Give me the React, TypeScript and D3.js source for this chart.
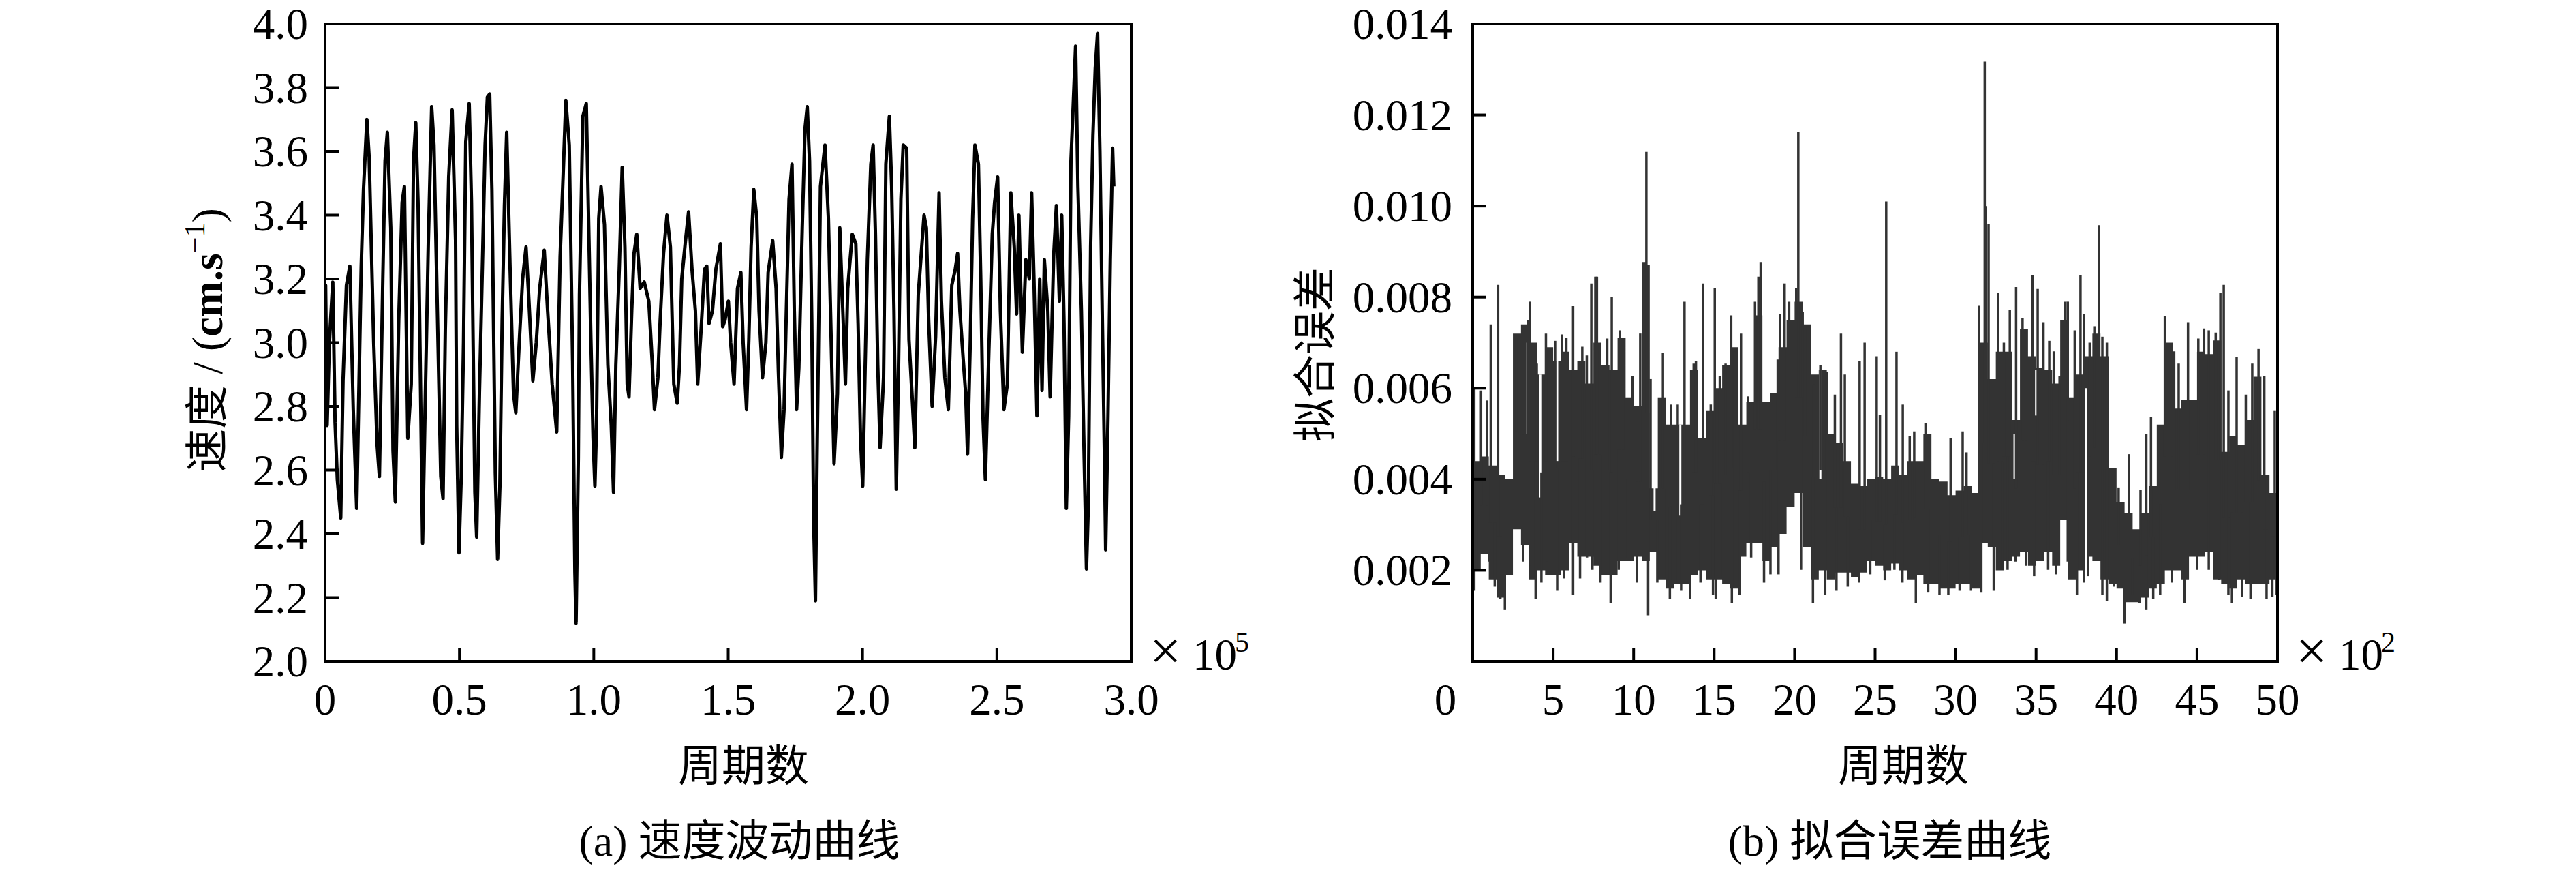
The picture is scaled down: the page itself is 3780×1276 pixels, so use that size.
import React from "react";
import * as d3 from "d3";

const W = 3780;
const H = 1276;
const SERIF = "'Liberation Serif', 'Times New Roman', 'Noto Sans CJK SC', serif";

// ---------- (a) speed fluctuation: [thousand cycles, cm/s] ----------
const speedPoints: [number, number][] = [
  [0, 2.85], [0.2, 3.18], [0.76, 2.74], [1.6, 3.0], [2.87, 3.19], [3.72, 2.75], [4.57, 2.57], [5.83, 2.45],
  [6.68, 2.88], [7.95, 3.18], [9.22, 3.24], [10.49, 2.79], [11.76, 2.48], [13.45, 3.24], [14.29, 3.48], [15.56, 3.7],
  [16.41, 3.58], [18.1, 3.0], [19.37, 2.68], [20.22, 2.58], [21.49, 3.2], [22.33, 3.57], [23.18, 3.66], [24.45, 3.36],
  [25.29, 2.66], [26.14, 2.5], [27.41, 3.07], [28.68, 3.44], [29.52, 3.49], [30.79, 2.7], [32.06, 2.87], [32.91, 3.57],
  [33.75, 3.69], [34.6, 3.44], [35.87, 2.64], [36.29, 2.37], [37.14, 2.76], [38.41, 3.31], [39.67, 3.74], [40.52, 3.62],
  [41.79, 3.1], [43.06, 2.58], [43.9, 2.51], [44.75, 3.04], [46.02, 3.52], [47.29, 3.73], [48.56, 3.32], [48.98, 2.74],
  [49.83, 2.34], [50.67, 2.58], [51.52, 3.0], [52.36, 3.63], [53.63, 3.75], [54.48, 3.44], [55.75, 2.53], [56.42, 2.39],
  [57.44, 2.84], [58.71, 3.3], [59.55, 3.62], [60.4, 3.77], [61.25, 3.78], [62.09, 3.48], [63.36, 2.59], [64.21, 2.32],
  [65.05, 2.55], [65.9, 3.07], [66.75, 3.43], [67.59, 3.66], [68.86, 3.23], [70.13, 2.84], [70.98, 2.78], [72.25, 3.0],
  [73.51, 3.2], [74.78, 3.3], [75.63, 3.17], [77.32, 2.88], [78.59, 3.0], [79.86, 3.17], [81.55, 3.29], [82.82, 3.1],
  [84.51, 2.87], [86.2, 2.72], [87.47, 3.27], [88.74, 3.56], [89.59, 3.76], [90.86, 3.62], [92.13, 2.94], [92.97, 2.28],
  [93.4, 2.12], [94.24, 2.64], [94.66, 3.15], [95.93, 3.71], [97.2, 3.75],
  [98.05, 3.39], [98.89, 3.02], [99.74, 2.7], [100.41, 2.55], [101.0, 2.74], [101.85, 3.39], [102.7, 3.49], [103.97, 3.37],
  [105.24, 2.93], [106.5, 2.74], [107.35, 2.53], [108.2, 2.93], [109.47, 3.23], [110.57, 3.55], [111.58, 3.3], [112.43, 2.87],
  [113.1, 2.83], [114.12, 3.1], [114.97, 3.28], [115.98, 3.34], [117.25, 3.17], [118.77, 3.19], [120.47, 3.13], [121.73, 2.94],
  [122.58, 2.79], [123.85, 2.89], [124.7, 3.07], [125.96, 3.28], [127.23, 3.4], [128.5, 3.3], [129.77, 2.87], [131.04, 2.81],
  [131.89, 2.93], [132.73, 3.2], [134.0, 3.31], [135.27, 3.41], [136.54, 3.23], [137.81, 3.1], [138.65, 2.87], [139.92, 3.04],
  [141.19, 3.23], [142.04, 3.24], [142.88, 3.06], [144.15, 3.1], [145.42, 3.23], [147.11, 3.31], [147.96, 3.05], [148.81, 3.07],
  [150.08, 3.13], [150.92, 3.0], [152.19, 2.87], [153.46, 3.17], [154.73, 3.22], [155.57, 3.0], [156.84, 2.79], [157.69, 3.01],
  [158.54, 3.3], [159.55, 3.48], [160.65, 3.39], [161.5, 3.1], [162.77, 2.89], [164.03, 3.0], [164.88, 3.22], [166.57, 3.32],
  [167.84, 3.17], [168.69, 2.91], [169.79, 2.64], [170.8, 2.79], [171.65, 3.1], [172.66, 3.45], [173.76, 3.56], [174.61, 3.1],
  [175.46, 2.79], [176.3, 2.92], [177.57, 3.36], [178.59, 3.67], [179.43, 3.74], [180.28, 3.57], [181.12, 3.06], [181.8, 2.45],
  [182.48, 2.19], [183.07, 2.64], [184.34, 3.49], [186.03, 3.62], [187.3, 3.39], [188.57, 2.92], [189.41, 2.62], [190.68, 2.84],
  [191.53, 3.36], [192.8, 3.07], [193.64, 2.87], [194.49, 3.17], [196.18, 3.34],
  [197.5, 3.31], [198.35, 3.06], [199.21, 2.71], [200.07, 2.55], [200.94, 2.91], [201.8, 3.26], [203.09, 3.56], [203.95, 3.62],
  [204.81, 3.34], [205.67, 2.93], [206.53, 2.67], [207.82, 2.89], [208.68, 3.56], [209.98, 3.71], [210.84, 3.49], [211.7, 3.1],
  [212.56, 2.54], [213.42, 2.94], [214.28, 3.45], [215.14, 3.62], [216.43, 3.61], [217.29, 3.01], [218.59, 2.81], [219.45, 2.67],
  [220.74, 3.15], [222.03, 3.3], [222.89, 3.4], [223.75, 3.36], [224.61, 3.07], [225.9, 2.8], [227.2, 3.02], [228.49, 3.47],
  [229.35, 3.13], [230.64, 2.89], [231.93, 2.79], [233.22, 3.18], [234.51, 3.23], [235.38, 3.28], [236.24, 3.1], [237.53, 2.94],
  [238.39, 2.84], [239.08, 2.65], [240.11, 3.01], [240.97, 3.39], [241.83, 3.62], [243.12, 3.56], [243.99, 3.2], [244.85, 2.76],
  [245.71, 2.57], [247.0, 2.97], [248.29, 3.34], [249.15, 3.44], [250.27, 3.52], [251.3, 3.1], [252.6, 2.79], [253.89, 2.87],
  [255.18, 3.47], [256.47, 3.3], [257.33, 3.09], [258.19, 3.4], [259.48, 2.97], [260.78, 3.26], [262.07, 3.2], [262.93, 3.47],
  [263.79, 3.2], [264.91, 2.77], [265.94, 3.2], [266.8, 2.85], [267.66, 3.26], [268.95, 3.1], [269.82, 2.83], [271.11, 3.27],
  [272.14, 3.43], [273.26, 3.13], [274.12, 3.4], [274.98, 3.06], [275.84, 2.48], [276.7, 2.77], [277.56, 3.57], [278.43, 3.75],
  [279.29, 3.93], [280.15, 3.49], [281.44, 3.1], [282.3, 2.71], [283.33, 2.29], [284.02, 2.49], [284.88, 3.3], [285.74, 3.65],
  [286.61, 3.86], [287.47, 3.97], [288.33, 3.6], [289.19, 3.1], [290.05, 2.63], [290.48, 2.35], [291.34, 2.77], [292.2, 3.26],
  [293.06, 3.61], [293.49, 3.49],
];
const speedXTicks = [0, 50, 100, 150, 200, 250, 300];
const speedXTickLabels = ["0", "0.5", "1.0", "1.5", "2.0", "2.5", "3.0"];
const speedYTicks = [2.0, 2.2, 2.4, 2.6, 2.8, 3.0, 3.2, 3.4, 3.6, 3.8, 4.0];

// ---------- (b) fitting error: grid in hundreds of cycles, values in 1e-3 ----------
const errGrid = d3.range(0, 50.0001, 0.5);
const errUpperMilli = [
  4.4, 4.5, 4.3, 4.1, 4.0, 7.2, 7.4, 7.0, 6.3, 6.9, 6.6, 6.8, 6.4, 6.6, 6.1, 7.0, 6.5, 6.4, 7.1, 5.8,
  5.6, 8.7, 3.8, 5.8, 5.2, 5.2, 5.2, 6.4, 4.9, 5.5, 6.0, 6.5, 6.9, 5.2, 5.7, 7.6, 5.7, 5.9, 6.9, 7.5,
  7.9, 7.4, 6.3, 6.4, 5.0, 4.8, 4.4, 3.9, 3.85, 4.0, 4.05, 4.0, 4.3, 4.1, 4.4, 4.4, 5.0, 4.0, 3.95, 3.65,
  3.75, 3.85, 3.7, 7.0, 6.2, 6.8, 6.8, 5.3, 7.3, 6.7, 6.45, 6.4, 6.1, 7.5, 5.8, 6.3, 6.7, 7.2, 6.7, 4.25,
  3.5, 3.25, 2.9, 3.25, 3.85, 5.2, 7.0, 5.55, 5.75, 5.75, 6.8, 6.75, 7.05, 4.6, 4.95, 4.75, 5.3, 6.25, 4.1, 3.7,
  3.0,
];
const errLowerMilli = [
  2.0, 2.35, 1.8, 1.4, 1.9, 2.9, 2.55, 1.8, 2.0, 1.9, 1.9, 2.0, 2.6, 2.3, 2.3, 2.1, 1.9, 1.9, 2.2, 2.2,
  2.3, 2.2, 2.4, 1.8, 1.6, 1.7, 1.7, 1.9, 2.0, 1.8, 1.8, 1.7, 1.6, 2.3, 2.6, 2.6, 2.2, 2.5, 2.8, 3.4,
  3.7, 2.5, 1.8, 2.0, 1.8, 1.95, 1.95, 1.85, 1.95, 2.2, 2.1, 2.0, 2.15, 2.0, 1.8, 1.9, 1.7, 1.7, 1.6, 1.6,
  1.7, 1.7, 1.6, 2.6, 2.5, 2.0, 2.2, 2.3, 2.4, 2.1, 2.2, 2.4, 2.1, 3.1, 1.8, 2.0, 2.3, 2.2, 1.8, 1.7,
  1.6, 1.3, 1.3, 1.4, 1.6, 1.7, 2.0, 2.0, 1.8, 2.3, 2.3, 2.4, 1.8, 1.7, 1.6, 1.8, 1.7, 1.7, 1.7, 1.8,
  2.0,
];
const errSpikesUp: [number, number][] = [
  [0.1, 6.0], [0.52, 5.95], [0.88, 5.73], [1.12, 7.4], [1.58, 8.27], [2.71, 7.09], [3.13, 7.36], [3.45, 7.5],
  [3.56, 7.9], [3.98, 6.54], [4.55, 7.2], [5.12, 7.04], [5.54, 7.18], [5.82, 7.1], [6.24, 7.8], [6.81, 6.91],
  [7.09, 6.72], [7.37, 8.3], [7.62, 8.45], [7.72, 8.45], [8.36, 7.09], [8.64, 8.0], [9.14, 7.27], [9.35, 7.0],
  [9.92, 6.27], [10.41, 7.2], [10.6, 8.77], [10.7, 8.77], [10.79, 11.19], [11.05, 6.2], [11.82, 6.77], [12.32, 5.64],
  [12.74, 5.64], [13.16, 7.9], [13.73, 6.54], [13.87, 6.6], [14.32, 8.3], [14.79, 5.64], [15.04, 8.2], [15.35, 6.27],
  [15.71, 6.54], [16.06, 7.6], [16.27, 6.81], [16.67, 7.2], [17.1, 5.82], [17.54, 7.9], [17.75, 8.45], [17.89, 8.77],
  [18.95, 6.63], [19.1, 7.63], [19.38, 8.3], [19.66, 7.9], [20.1, 8.2], [20.23, 11.62], [20.5, 7.68], [20.8, 7.36],
  [21.2, 6.09], [21.6, 6.5], [22.0, 6.36], [22.5, 5.86], [22.88, 7.2], [23.12, 6.3], [24.04, 6.6], [24.35, 7.0],
  [25.1, 6.7], [25.3, 5.41], [25.69, 10.1], [26.33, 6.8], [26.72, 5.64], [27.15, 4.95], [27.43, 5.05], [28.13, 5.23],
  [29.69, 4.91], [30.44, 5.05], [30.68, 4.59], [31.45, 7.81], [31.81, 13.17], [31.89, 10.0], [32.05, 9.6], [32.65, 8.09],
  [33.0, 7.0], [33.37, 7.72], [33.76, 8.22], [34.16, 7.54], [34.77, 8.49], [35.1, 8.18], [35.46, 7.45], [35.82, 7.04],
  [36.1, 6.81], [36.46, 6.27], [36.82, 7.9], [36.97, 7.9], [37.4, 7.27], [37.76, 8.49], [37.97, 7.63], [38.33, 7.0],
  [38.62, 7.36], [38.9, 9.58], [39.12, 7.13], [39.4, 7.0], [40.13, 3.82], [40.77, 4.55], [41.49, 3.77], [41.85, 5.0],
  [42.14, 5.36], [43.0, 7.59], [43.58, 6.81], [43.86, 6.54], [44.44, 7.45], [45.08, 7.09], [45.44, 7.31], [45.73, 7.27],
  [46.16, 7.22], [46.45, 8.09], [46.66, 8.27], [46.95, 5.95], [47.46, 6.68], [48.03, 5.86], [48.43, 6.54], [48.82, 6.86],
  [49.18, 6.27], [49.83, 5.5],
];
const errSpikesDown: [number, number][] = [
  [0.1, 1.55], [0.38, 2.01], [1.02, 2.19], [1.37, 1.64], [1.72, 1.37], [2.0, 1.14], [3.13, 2.19], [3.56, 2.1],
  [3.91, 1.37], [4.27, 1.73], [4.62, 2.19], [5.25, 1.55], [5.68, 1.82], [6.24, 1.46], [6.67, 1.82], [7.1, 2.28],
  [7.44, 2.01], [7.94, 1.73], [8.57, 1.28], [9.07, 2.01], [9.63, 2.28], [10.2, 1.73], [10.9, 1.01], [11.47, 1.73],
  [11.9, 1.82], [12.25, 1.37], [12.74, 1.73], [12.95, 1.55], [13.5, 1.37], [14.15, 1.73], [14.93, 1.46], [15.1, 1.37],
  [15.4, 1.82], [16.1, 1.28], [16.55, 1.46], [16.6, 1.46], [17.3, 2.28], [18.1, 1.73], [18.5, 1.91], [19.0, 1.91],
  [20.4, 2.01], [21.14, 1.28], [21.9, 1.46], [22.6, 1.55], [23.3, 1.64], [24.0, 1.73], [24.7, 1.91], [25.6, 1.78],
  [26.2, 2.01], [26.7, 1.73], [27.53, 1.28], [28.3, 1.51], [29.0, 1.46], [29.55, 1.46], [30.25, 1.55], [30.96, 1.55],
  [31.6, 1.51], [32.37, 1.55], [32.9, 2.01], [33.23, 2.01], [33.73, 2.19], [34.38, 2.1], [34.88, 1.87], [35.75, 2.01],
  [36.25, 1.91], [36.97, 2.19], [37.54, 1.46], [37.97, 1.73], [38.23, 1.87], [39.12, 1.46], [39.4, 1.32], [39.84, 1.64],
  [40.49, 0.83], [40.99, 1.46], [41.42, 1.28], [41.85, 1.14], [42.28, 1.37], [42.71, 1.46], [43.43, 1.73], [44.22, 1.28],
  [45.01, 2.01], [45.73, 2.01], [46.38, 1.78], [46.95, 1.46], [47.17, 1.28], [47.81, 1.42], [48.32, 1.37], [49.32, 1.37],
  [49.68, 1.42], [49.95, 1.46],
];
// white gaps inside the band: [hundreds of cycles, top, bottom] in 1e-3
const errGaps: [number, number, number][] = [
  [3.4, 7.0, 5.0], [4.2, 6.3, 3.6], [5.25, 6.9, 4.4], [11.3, 5.0, 3.3], [12.9, 5.2, 3.2], [21.6, 6.5, 4.0],
  [33.66, 5.0, 4.0], [35.0, 6.4, 5.4], [38.1, 6.0, 2.0],
];
const errXTicks = [0, 5, 10, 15, 20, 25, 30, 35, 40, 45, 50];
const errYTicks = [0.002, 0.004, 0.006, 0.008, 0.01, 0.012, 0.014];
const errYTickLabels = ["0.002", "0.004", "0.006", "0.008", "0.010", "0.012", "0.014"];

const TOP = 35;
const BOTTOM = 970;
const A_LEFT = 477;
const A_RIGHT = 1660;
const B_LEFT = 2161;
const B_RIGHT = 3342;
const TICK_FS = 65;
const CJK_FS = 64;
const AXIS_W = 4;
const TICK_LEN = 20;

function Exponent({ x, power }: { x: number; power: string }) {
  return (
    <g fontFamily={SERIF} fill="#000">
      <text x={x + 27} y={982} fontSize={82}>×</text>
      <text x={x + 90} y={982} fontSize={TICK_FS}>10</text>
      <text x={x + 152} y={956} fontSize={42}>{power}</text>
    </g>
  );
}

export default function App() {
  const xa = d3.scaleLinear().domain([0, 300]).range([A_LEFT, A_RIGHT]);
  const ya = d3.scaleLinear().domain([2, 4]).range([BOTTOM, TOP]);
  const speedLine = d3
    .line<[number, number]>()
    .x((d) => xa(d[0]))
    .y((d) => ya(d[1]))
    .curve(d3.curveLinear);

  const xb = d3.scaleLinear().domain([0, 50]).range([B_LEFT, B_RIGHT]);
  const yb = d3.scaleLinear().domain([0, 0.014]).range([BOTTOM, TOP]);
  const band = errGrid.map((u, i) => ({ u, lo: errLowerMilli[i] / 1000, hi: errUpperMilli[i] / 1000 }));
  const bandArea = d3
    .area<{ u: number; lo: number; hi: number }>()
    .x((d) => xb(d.u))
    .y0((d) => yb(d.lo))
    .y1((d) => yb(d.hi))
    .curve(d3.curveStepAfter);
  const mid = (u: number) => {
    const i = Math.min(errGrid.length - 1, Math.floor(u / 0.5));
    return (errLowerMilli[i] + errUpperMilli[i]) / 2000;
  };

  return (
    <svg
      width={W}
      height={H}
      viewBox={`0 0 ${W} ${H}`}
      style={{ position: "absolute", left: 0, top: 0, background: "#fff" }}
      xmlns="http://www.w3.org/2000/svg"
    >
      <rect x={0} y={0} width={W} height={H} fill="#fff" />
      <defs>
        <clipPath id="clipA">
          <rect x={A_LEFT} y={TOP} width={A_RIGHT - A_LEFT} height={BOTTOM - TOP} />
        </clipPath>
        <clipPath id="clipB">
          <rect x={B_LEFT} y={TOP} width={B_RIGHT - B_LEFT} height={BOTTOM - TOP} />
        </clipPath>
      </defs>

      {/* ---------------- panel (a) ---------------- */}
      <g clipPath="url(#clipA)">
        <path d={speedLine(speedPoints) || ""} fill="none" stroke="#000" strokeWidth={5} strokeLinejoin="round" />
      </g>
      <rect x={A_LEFT} y={TOP} width={A_RIGHT - A_LEFT} height={BOTTOM - TOP} fill="none" stroke="#000" strokeWidth={AXIS_W} />
      {speedYTicks.map((t) => (
        <g key={"ya" + t}>
          <line x1={A_LEFT} x2={A_LEFT + TICK_LEN} y1={ya(t)} y2={ya(t)} stroke="#000" strokeWidth={AXIS_W} />
          <text x={A_LEFT - 25} y={ya(t) + 22} textAnchor="end" fontFamily={SERIF} fontSize={TICK_FS}>
            {t.toFixed(1)}
          </text>
        </g>
      ))}
      {speedXTicks.map((t, i) => (
        <g key={"xa" + t}>
          <line x1={xa(t)} x2={xa(t)} y1={BOTTOM} y2={BOTTOM - TICK_LEN} stroke="#000" strokeWidth={AXIS_W} />
          <text x={xa(t)} y={1048} textAnchor="middle" fontFamily={SERIF} fontSize={TICK_FS}>
            {speedXTickLabels[i]}
          </text>
        </g>
      ))}
      <Exponent x={A_RIGHT} power="5" />
      <text transform="translate(326,499) rotate(-90)" textAnchor="middle" fontFamily={SERIF} fontSize={CJK_FS}>
        速度 / (<tspan fontWeight="bold">cm.s</tspan>
        <tspan fontSize={42} dy={-26}>−1</tspan>
        <tspan dy={26}>)</tspan>
      </text>
      <text x={1091} y={1145} textAnchor="middle" fontFamily={SERIF} fontSize={CJK_FS}>周期数</text>
      <text x={1085} y={1255} textAnchor="middle" fontFamily={SERIF} fontSize={CJK_FS}>(a) 速度波动曲线</text>

      {/* ---------------- panel (b) ---------------- */}
      <g clipPath="url(#clipB)">
        <path d={bandArea(band) || ""} fill="#333" stroke="none" />
        {errGaps.map(([u, t, b], i) => (
          <line key={"g" + i} x1={xb(u)} x2={xb(u)} y1={yb(t / 1000)} y2={yb(b / 1000)} stroke="#fff" strokeWidth={3} />
        ))}
        {errSpikesUp.map(([u, v], i) => (
          <line key={"su" + i} x1={xb(u)} x2={xb(u)} y1={yb(mid(u))} y2={yb(v / 1000)} stroke="#333" strokeWidth={3.5} />
        ))}
        {errSpikesDown.map(([u, v], i) => (
          <line key={"sd" + i} x1={xb(u)} x2={xb(u)} y1={yb(mid(u))} y2={yb(v / 1000)} stroke="#333" strokeWidth={3.5} />
        ))}
      </g>
      <rect x={B_LEFT} y={TOP} width={B_RIGHT - B_LEFT} height={BOTTOM - TOP} fill="none" stroke="#000" strokeWidth={AXIS_W} />
      {errYTicks.map((t, i) => (
        <g key={"yb" + t}>
          <line x1={B_LEFT} x2={B_LEFT + TICK_LEN} y1={yb(t)} y2={yb(t)} stroke="#000" strokeWidth={AXIS_W} />
          <text x={B_LEFT - 30} y={yb(t) + 22} textAnchor="end" fontFamily={SERIF} fontSize={TICK_FS}>
            {errYTickLabels[i]}
          </text>
        </g>
      ))}
      {errXTicks.map((t) => (
        <g key={"xb" + t}>
          <line x1={xb(t)} x2={xb(t)} y1={BOTTOM} y2={BOTTOM - TICK_LEN} stroke="#000" strokeWidth={AXIS_W} />
          <text x={xb(t) - (t === 0 ? 40 : 0)} y={1048} textAnchor="middle" fontFamily={SERIF} fontSize={TICK_FS}>
            {String(t)}
          </text>
        </g>
      ))}
      <Exponent x={B_RIGHT} power="2" />
      <text transform="translate(1952,520) rotate(-90)" textAnchor="middle" fontFamily={SERIF} fontSize={CJK_FS}>
        拟合误差
      </text>
      <text x={2793} y={1145} textAnchor="middle" fontFamily={SERIF} fontSize={CJK_FS}>周期数</text>
      <text x={2773} y={1255} textAnchor="middle" fontFamily={SERIF} fontSize={CJK_FS}>(b) 拟合误差曲线</text>
    </svg>
  );
}
